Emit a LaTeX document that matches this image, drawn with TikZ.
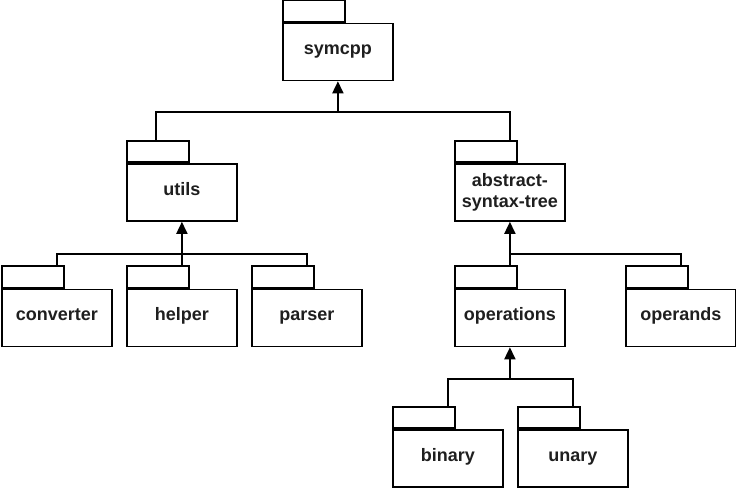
\documentclass[tikz,border=0pt]{standalone}
\usepackage{fontspec}
\setmainfont{Liberation Sans}
\usetikzlibrary{arrows.meta,calc}
\begin{document}
\begin{tikzpicture}[x=1pt,y=-1pt,
  line width=1.8pt,
  pkgbody/.style={draw=black,fill=white,minimum width=110pt,minimum height=57pt,inner sep=0pt,anchor=north west,
    font=\fontsize{18}{20.5}\selectfont\bfseries,align=center,text=black!88,text height=9pt,text depth=3.5pt},
  pkgtab/.style={draw=black,fill=white,minimum width=62pt,minimum height=21.5pt,inner sep=0pt,anchor=south west},
  conn/.style={draw=black,line width=1.8pt},
  inh/.style={conn,-{Triangle[length=12pt,width=11pt]}}]
\useasboundingbox (0,0) rectangle (736,488);
\newcommand\pkgdraw[5][]{%
  \node[pkgbody,#1] (#2) at (#3,#4) {#5};
  \node[pkgtab] (#2T) at (#2.north west) {};
}
\pkgdraw{sym}{282}{22.5}{symcpp}
\pkgdraw{utl}{126}{163}{utils}
\pkgdraw[text height=,text depth=]{ast}{454}{163}{abstract-\\syntax-tree}
\pkgdraw{cnv}{1}{288.5}{converter}
\pkgdraw{hlp}{126}{288.5}{helper}
\pkgdraw{prs}{251}{288.5}{parser}
\pkgdraw{ops}{454}{288.5}{operations}
\pkgdraw{opd}{625}{288.5}{operands}
\pkgdraw{bin}{392}{429}{binary}
\pkgdraw{una}{517}{429}{unary}
% symcpp group
\coordinate (h1) at ($(sym.south)+(0,31)$);
\draw[conn] ($(utlT.north)+(-2,0)$) |- (h1) -| (ast.center |- astT.north);
\draw[inh] (h1) -- (sym.south);
% utils group
\coordinate (h2) at ($(utl.south)+(0,32)$);
\draw[conn] ($(cnvT.north east)+(-8,0)$) |- (h2) -| ($(prsT.north east)+(-8,0)$);
\draw[conn] (hlp.center |- hlpT.north) -- (h2);
\draw[inh] (h2) -- (utl.south);
% ast group
\coordinate (h3) at ($(ast.south)+(0,32)$);
\draw[conn] (ops.center |- opsT.north) -- (h3) -| ($(opdT.north east)+(-8,0)$);
\draw[inh] (h3) -- (ast.south);
% operations group
\coordinate (h4) at ($(ops.south)+(0,32)$);
\draw[conn] ($(binT.north east)+(-8,0)$) |- (h4) -| ($(unaT.north east)+(-8,0)$);
\draw[inh] (h4) -- (ops.south);
\end{tikzpicture}
\end{document}
